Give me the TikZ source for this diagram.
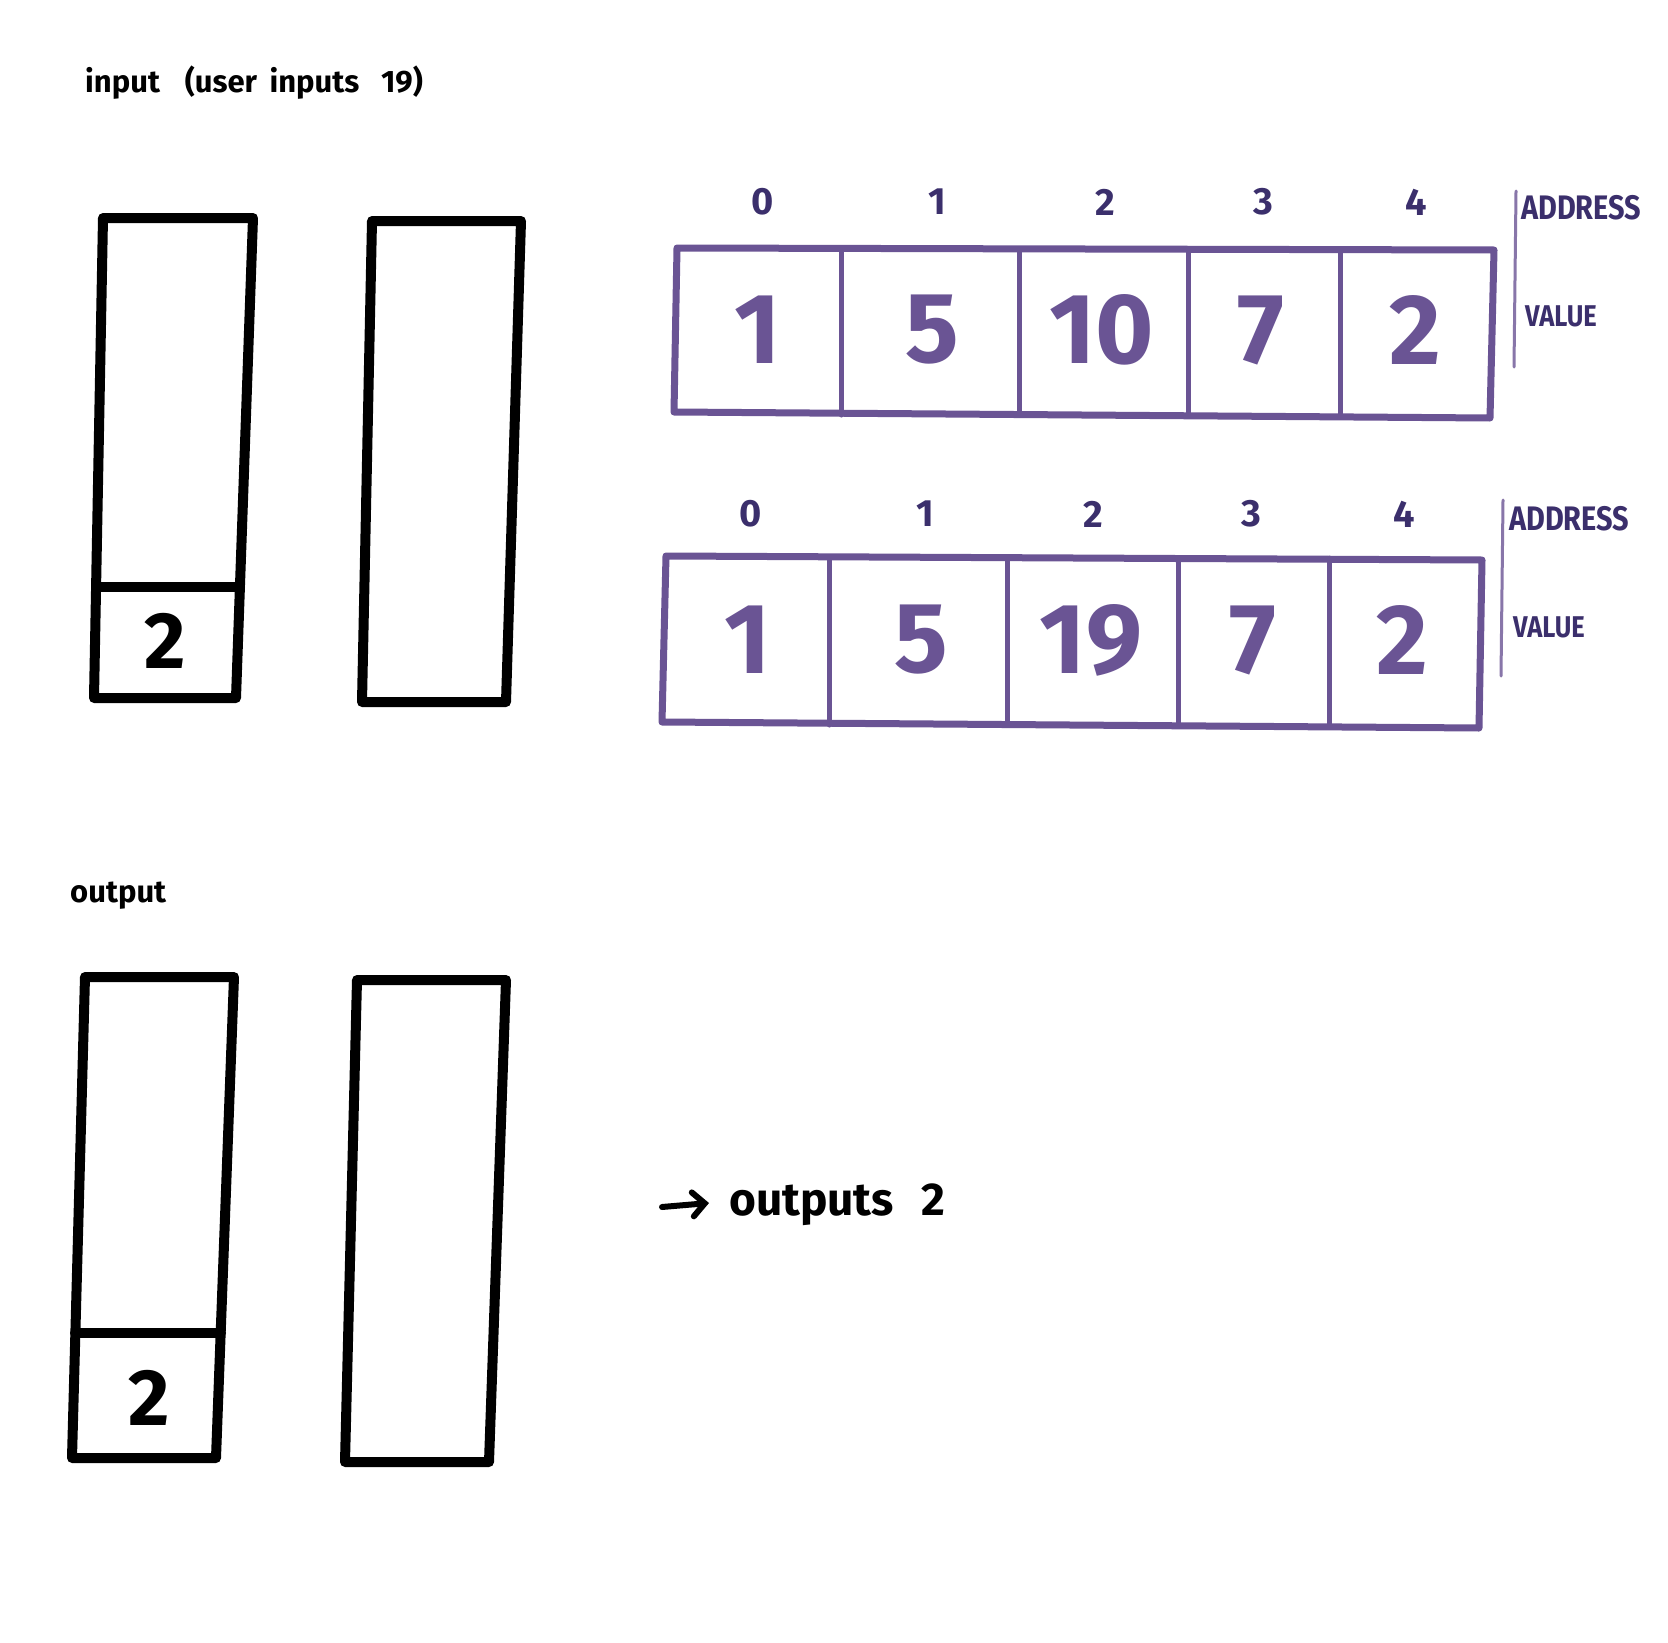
\documentclass[tikz,border=0pt]{standalone}
\usepackage{fontspec}
\setmainfont{Fira Sans}
\usetikzlibrary{arrows.meta}
\definecolor{arrline}{HTML}{6A5494}
\definecolor{adrtxt}{HTML}{3B2F6C}
\begin{document}
\begin{tikzpicture}[x=1pt,y=-1pt,
  stk/.style={line width=10pt, line join=round, line cap=round, black},
  arrbox/.style={line width=7pt, arrline, line join=round, line cap=round},
  sep/.style={line width=3pt, arrline!80, line cap=round},
  hand/.style={font=\fontsize{31}{33}\selectfont\bfseries, black, inner sep=0pt},
  adr/.style={font=\fontsize{38}{40}\selectfont\bfseries, adrtxt, inner sep=0pt},
  val/.style={font=\fontsize{100}{100}\selectfont\bfseries, arrline, inner sep=0pt},
  tag/.style={font=\fontsize{34}{36}\selectfont\bfseries, adrtxt, inner sep=0pt, anchor=west, xscale=0.85},
  stkval/.style={font=\fontsize{80}{80}\selectfont\bfseries, black, inner sep=0pt},
  arrowline/.style={line width=6pt, line cap=round, -{Straight Barb[length=12pt,width=24pt,line cap=round]}}
]
\useasboundingbox (0,0) rectangle (1668,1643);
\fill[white] (0,0) rectangle (1668,1643);

% labels
\node[hand, anchor=west] (inlbl) at (85,83) {input\hspace{0.8em}(user\hspace{0.4em}inputs\hspace{0.7em}19)};
\node[hand, anchor=west] (outlbl) at (70,896) {output};

% input stacks
\draw[stk] (103,218) -- (253,218) -- (236,698) -- (94,698) -- cycle;
\draw[stk] (96,587) -- (240,587);
\node[stkval] (s1v) at (165,641) {2};
\draw[stk] (372,221) -- (521,221) -- (506,702) -- (362,702) -- cycle;

% output stacks
\draw[stk] (85,977) -- (234,977) -- (216,1458) -- (72,1458) -- cycle;
\draw[stk] (75,1333) -- (221,1333);
\node[stkval] (s3v) at (149,1398) {2};
\draw[stk] (357,980) -- (506,980) -- (489,1462) -- (345,1462) -- cycle;

% array 1
\draw[arrbox] (677,248) -- (1494,250) -- (1490,418) -- (674,412) -- cycle;
\foreach \x in {841,1019,1188,1340} \draw[arrbox, line width=5pt] (\x,250) -- (\x,415);
\foreach \x/\t [count=\i] in {763/0,937/1,1105/2,1263/3,1416/4}
  \node[adr] (a1i\i) at (\x,202) {\t};
\foreach \x/\t [count=\i] in {758/1,932/5,1102/10,1261/7,1415/2}
  \node[val] (a1v\i) at (\x,330) {\t};
\draw[sep] (1516,191) -- (1514,367);
\node[tag] (a1adr) at (1521,208) {ADDRESS};
\node[tag, font=\fontsize{30}{32}\selectfont\bfseries] (a1val) at (1525,316) {VALUE};

% array 2
\draw[arrbox] (666,556) -- (1482,560) -- (1479,728) -- (662,722) -- cycle;
\foreach \x in {829,1007,1178,1329} \draw[arrbox, line width=5pt] (\x,558) -- (\x,725);
\foreach \x/\t [count=\i] in {751/0,925/1,1093/2,1251/3,1404/4}
  \node[adr] (a2i\i) at (\x,514) {\t};
\foreach \x/\t [count=\i] in {748/1,921/5,1091/19,1253/7,1402/2}
  \node[val] (a2v\i) at (\x,640) {\t};
\draw[sep] (1503,500) -- (1501,676);
\node[tag] (a2adr) at (1509,519) {ADDRESS};
\node[tag, font=\fontsize{30}{32}\selectfont\bfseries] (a2val) at (1513,627) {VALUE};

% outputs 2
\coordinate (arrS) at (662,1207);
\node[font=\fontsize{46}{48}\selectfont\bfseries, inner sep=0pt, anchor=west] (outs) at (729,1205) {outputs\hspace{0.6em}2};
\draw[arrowline] (arrS) -- ([xshift=-20pt,yshift=2pt]outs.west);
\end{tikzpicture}
\end{document}
